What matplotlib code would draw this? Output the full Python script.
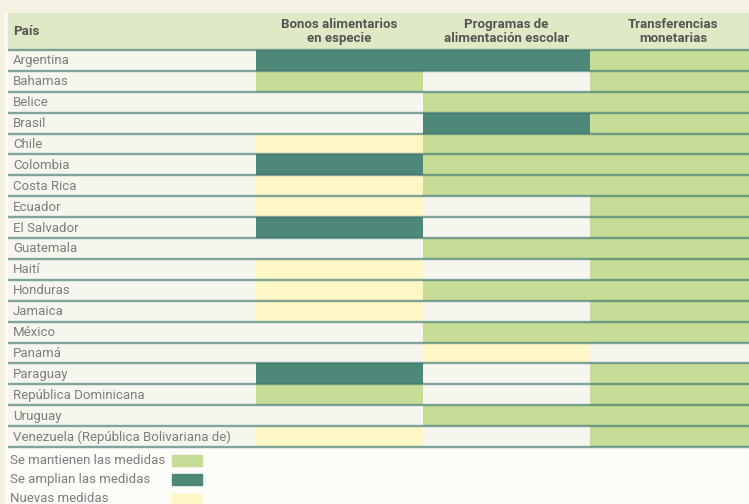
import matplotlib.pyplot as plt
from matplotlib.patches import Rectangle

plt.rcParams['font.family'] = ['Roboto', 'DejaVu Sans']

# Datos: M = se mantienen, A = se amplían, N = nuevas medidas, '' = sin medida
paises = ['Argentina', 'Bahamas', 'Belice', 'Brasil', 'Chile', 'Colombia',
          'Costa Rica', 'Ecuador', 'El Salvador', 'Guatemala', 'Haití',
          'Honduras', 'Jamaica', 'México', 'Panamá', 'Paraguay',
          'República Dominicana', 'Uruguay',
          'Venezuela (República Bolivariana de)']
bonos = ['A', 'M', '', '', 'N', 'A', 'N', 'N', 'A', '', 'N', 'N', 'N',
         '', '', 'A', 'M', '', 'N']
programas = ['A', '', 'M', 'A', 'M', 'M', 'M', '', '', 'M', '', 'M', '',
             'M', 'N', '', '', 'M', '']
transferencias = ['M', 'M', 'M', 'M', 'M', 'M', 'M', 'M', 'M', 'M', 'M', 'M',
                  'M', 'M', '', 'M', 'M', 'M', 'M']
columnas = ['Bonos alimentarios\nen especie',
            'Programas de\nalimentación escolar',
            'Transferencias\nmonetarias']
leyenda = ['Se mantienen las medidas', 'Se amplian las medidas', 'Nuevas medidas']

colores = {'M': '#c7dc96', 'A': '#4e8878', 'N': '#fdf7c6', '': '#f6f6ef'}

# layout (pixels)
W, H = 749, 504
x0, name_w, col_w = 8, 248, 167
head_top, head_bot = 13, 50
row_h = (447 - head_bot) / len(paises)
fs = 9.5

fig = plt.figure(figsize=(W / 100, H / 100), dpi=100)
fig.patch.set_facecolor('#f5f2e4')
ax = fig.add_axes([0, 0, 1, 1])
ax.set_xlim(0, W)
ax.set_ylim(H, 0)
ax.axis('off')

# white panel + header band
ax.add_patch(Rectangle((5, head_top), W, H, color='#fcfbf7', zorder=0))
ax.add_patch(Rectangle((x0, head_top), W, head_bot - head_top,
                       color='#dfe9c6', zorder=1))
ax.text(x0 + 5, (head_top + head_bot) / 2, 'País', fontsize=fs,
        fontweight='bold', color='#555555', va='center', ha='left')

ys = [head_bot + (i + 0.5) * row_h for i in range(len(paises))]

# name column
ax.barh(ys, name_w, left=x0, height=row_h, color=colores[''], zorder=1)
for y, p in zip(ys, paises):
    ax.text(x0 + 5, y + 0.5, p, fontsize=fs, color='#7d7d7d',
            va='center', ha='left', zorder=3)

for j, (serie, titulo) in enumerate(zip([bonos, programas, transferencias], columnas)):
    left = x0 + name_w + j * col_w
    ax.barh(ys, col_w, left=left, height=row_h,
            color=[colores[v] for v in serie], zorder=1)
    ax.text(left + col_w / 2, (head_top + head_bot) / 2, titulo, fontsize=fs,
            fontweight='bold', color='#555555', ha='center', va='center',
            linespacing=1.05)

# row separators
for i in range(len(paises) + 1):
    y = head_bot + i * row_h
    ax.plot([x0, W], [y, y], color='#3f7772', alpha=0.65, lw=1.7,
            solid_capstyle='butt', zorder=2)

# legend
for k, lab in enumerate(leyenda):
    y = 460 + k * 19.5
    ax.text(10, y, lab, fontsize=fs, color='#7d7d7d', va='center', ha='left')
    ax.add_patch(Rectangle((172, y - 5.5), 30, 11,
                           color=colores[['M', 'A', 'N'][k]]))

fig.savefig('out.png', dpi=100, facecolor=fig.get_facecolor())
